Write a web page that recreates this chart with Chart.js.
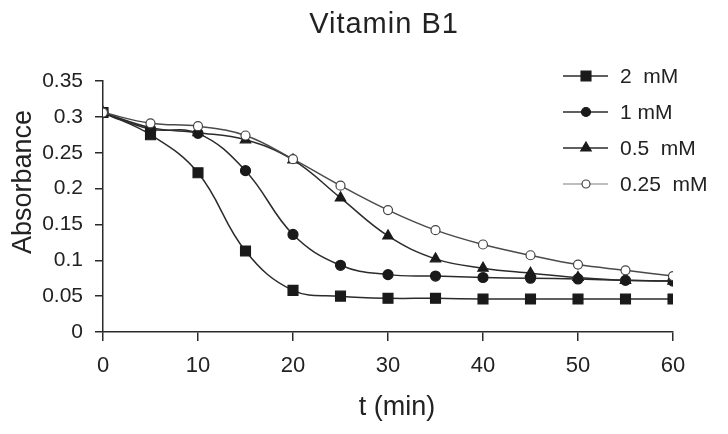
<!DOCTYPE html>
<html>
<head>
<meta charset="utf-8">
<script src="https://cdn.jsdelivr.net/npm/chart.js@4"></script>
<style>
  html, body { margin: 0; padding: 0; background: #fff; }
  #wrap { width: 728px; height: 434px; position: relative; }
</style>
</head>
<body>
<div id="wrap"><canvas id="chart"></canvas></div>
<script>
// Vitamin B1 - absorbance vs time, 4 concentrations

const times = [0, 5, 10, 15, 20, 25, 30, 35, 40, 45, 50, 55, 60];
const seriesLabels = ['2  mM', '1 mM', '0.5  mM', '0.25  mM'];
const conc2mM   = [0.306, 0.275, 0.222, 0.113, 0.058, 0.050, 0.047, 0.047, 0.046, 0.046, 0.046, 0.046, 0.046];
const conc1mM   = [0.306, 0.283, 0.277, 0.225, 0.136, 0.093, 0.080, 0.078, 0.076, 0.075, 0.074, 0.072, 0.071];
const conc05mM  = [0.306, 0.285, 0.278, 0.268, 0.240, 0.187, 0.134, 0.102, 0.089, 0.082, 0.076, 0.072, 0.071];
const conc025mM = [0.306, 0.291, 0.287, 0.274, 0.241, 0.204, 0.170, 0.142, 0.122, 0.107, 0.094, 0.086, 0.078];
const yTicks = [0, 0.05, 0.1, 0.15, 0.2, 0.25, 0.3, 0.35];
const xTicks = [0, 10, 20, 30, 40, 50, 60];

const FONT = "'Liberation Sans', Arial, sans-serif";
const DARK = '#2b2b2b';
const LIGHT = '#a8a8a8';

const pts = (ys) => times.map((t, i) => ({ x: t, y: ys[i] }));

// line = colour on plot, key = colour of the legend sample line
const styles = [
  { line: DARK,   key: DARK,  style: 'rect',     r: 7,   fill: '#1a1a1a', border: '#1a1a1a' },
  { line: DARK,   key: DARK,  style: 'circle',   r: 5,   fill: '#1a1a1a', border: '#1a1a1a' },
  { line: DARK,   key: DARK,  style: 'triangle', r: 6,   fill: '#1a1a1a', border: '#1a1a1a' },
  { line: '#4a4a4a', key: LIGHT, style: 'circle', r: 4.5, fill: '#ffffff', border: '#444444' }
];
const allSeries = [conc2mM, conc1mM, conc05mM, conc025mM];

/* === titles + legend drawn on canvas === */
const decor = {
  id: 'decor',
  afterDraw(chart) {
    const c = chart.ctx;
    c.save();
    c.fillStyle = '#222';

    // title
    c.font = `29px ${FONT}`;
    c.textAlign = 'center';
    c.textBaseline = 'alphabetic';
    if ('letterSpacing' in c) c.letterSpacing = '1px';
    c.fillText('Vitamin B1', 384, 33);
    if ('letterSpacing' in c) c.letterSpacing = '0px';

    // x title
    c.font = `27px ${FONT}`;
    c.fillText('t (min)', 397, 415);

    // y title
    c.save();
    c.translate(31, 182);
    c.rotate(-Math.PI / 2);
    c.fillText('Absorbance', 0, 0);
    c.restore();

    // legend
    const rows = [76, 112, 148, 184];
    c.font = `21px ${FONT}`;
    c.textAlign = 'left';
    c.textBaseline = 'middle';
    styles.forEach((s, i) => {
      const y = rows[i];
      c.strokeStyle = s.key;
      c.lineWidth = 1.5;
      c.beginPath(); c.moveTo(563, y); c.lineTo(608, y); c.stroke();
      c.fillStyle = s.fill; c.strokeStyle = s.border;
      c.lineWidth = 1.2;
      c.beginPath();
      if (s.style === 'rect') {
        const h = s.r * Math.SQRT1_2;
        c.rect(586 - h, y - h, 2 * h, 2 * h);
      } else if (s.style === 'triangle') {
        c.moveTo(586, y - s.r); c.lineTo(586 + s.r * 0.87, y + s.r * 0.5); c.lineTo(586 - s.r * 0.87, y + s.r * 0.5); c.closePath();
      } else {
        c.arc(586, y, s.r - 0.5, 0, Math.PI * 2);
      }
      c.fill(); c.stroke();
      c.fillStyle = '#222';
      c.fillText(seriesLabels[i], 620, y + 1);
    });
    c.restore();
  }
};

const datasets = allSeries.map((ys, i) => ({
  label: seriesLabels[i],
  data: pts(ys),
  borderColor: styles[i].line,
  borderWidth: 1.5,
  tension: 0.4,
  pointStyle: styles[i].style,
  pointRadius: styles[i].r,
  pointBackgroundColor: styles[i].fill,
  pointBorderColor: styles[i].border,
  pointBorderWidth: 1.2,
  order: 4 - i
}));

new Chart(document.getElementById('chart'), {
  type: 'line',
  data: { datasets },
  options: {
    responsive: true,
    maintainAspectRatio: false,
    animation: false,
    layout: { padding: { left: 0, top: 81, right: 55, bottom: 0 } },
    plugins: { legend: { display: false }, title: { display: false }, tooltip: { enabled: false } },
    scales: {
      x: {
        type: 'linear', min: 0, max: 60,
        afterBuildTicks: (s) => { s.ticks = xTicks.map(v => ({ value: v })); },
        afterFit: (s) => { s.height = 102; },
        grid: { drawOnChartArea: false, drawTicks: true, tickLength: 9, color: DARK, lineWidth: 1.5 },
        border: { color: DARK, width: 1.5 },
        ticks: { color: '#222', font: { family: FONT, size: 22 }, padding: 12, maxRotation: 0 }
      },
      y: {
        min: 0, max: 0.35,
        afterBuildTicks: (s) => { s.ticks = yTicks.map(v => ({ value: v })); },
        afterFit: (s) => { s.width = 103; },
        grid: { drawOnChartArea: false, drawTicks: true, tickLength: 8, color: DARK, lineWidth: 1.5 },
        border: { color: DARK, width: 1.5 },
        ticks: {
          color: '#222', font: { family: FONT, size: 21 }, padding: 12,
          callback: (v) => String(Number(v.toFixed(2)))
        }
      }
    }
  },
  plugins: [decor]
});
</script>
</body>
</html>
